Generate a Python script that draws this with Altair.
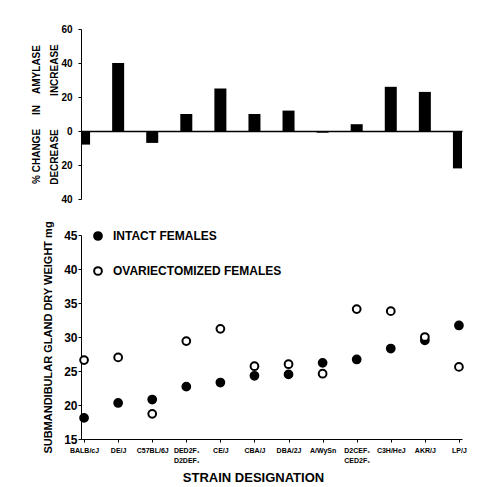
import altair as alt
import pandas as pd

strains = ["BALB/cJ", "DE/J", "C57BL/6J", "DED2F₁|D2DEF₁", "CE/J", "CBA/J",
           "DBA/2J", "A/WySn", "D2CEF₁|CED2F₁", "C3H/HeJ", "AKR/J", "LP/J"]
amylase_change = [-8, 40, -7, 10, 25, 10, 12, -1, 4, 26, 23, -22]
intact = [18.1, 20.3, 20.8, 22.7, 23.3, 24.3, 24.5, 26.2, 26.7, 28.3, 29.5, 31.7]
ovariectomized = [26.6, 27.0, 18.7, 29.4, 31.2, 25.7, 26.0, 24.6, 34.1, 33.8, 30.0, 25.6]
series_names = ["INTACT FEMALES", "OVARIECTOMIZED FEMALES"]

FONT = "Liberation Sans, DejaVu Sans"
NB = "\u00a0"

bar_df = pd.DataFrame({"strain": strains, "change": amylase_change})
pts_df = pd.DataFrame({
    "strain": strains * 2,
    "series": [series_names[0]] * len(strains) + [series_names[1]] * len(strains),
    "weight": intact + ovariectomized,
})

xscale = alt.Scale(type="point", domain=strains, padding=0.09)

top_title = [
    "%" + NB + "CHANGE" + NB * 5 + "IN" + NB * 4 + "AMYLASE",
    "DECREASE" + NB * 12 + "INCREASE",
]

top = alt.Chart(bar_df).mark_bar(size=12, color="black", clip=True).encode(
    x=alt.X("strain:N", scale=xscale, axis=None, sort=strains),
    y=alt.Y("change:Q", scale=alt.Scale(domain=[-40, 60], nice=False),
            axis=alt.Axis(values=[-40, -20, 0, 20, 40, 60], labelExpr="abs(datum.value)",
                          labelOverlap=False, labelFlush=False,
                          title=top_title, tickSize=3, labelPadding=6,
                          grid=True,
                          gridColor=alt.condition("datum.value == 0", alt.value("black"),
                                                  alt.value("transparent")),
                          gridWidth=1.5, gridOpacity=1,
                          labelFontSize=10, labelFontWeight="bold", labelFont=FONT,
                          titleFont=FONT, titleFontSize=10, titleFontWeight="bold",
                          titlePadding=1, titleLineHeight=18, domainColor="black",
                          tickColor="black", labelColor="black", titleColor="black")),
).properties(width=381, height=170)

points = alt.Chart(pts_df).mark_point(filled=False, size=60, strokeWidth=2, shape="circle",
                                      opacity=1).encode(
    x=alt.X("strain:N", scale=xscale, sort=strains,
            axis=alt.Axis(title="STRAIN DESIGNATION", labelAngle=0, tickSize=3,
                          labelExpr="split(datum.label, '|')", labelFont=FONT,
                          labelFontSize=7, labelFontWeight="bold", labelLineHeight=10,
                          labelPadding=4, labelColor="black",
                          titleFont=FONT, titleFontSize=13, titleFontWeight="bold",
                          titleColor="black", titleX=172, titlePadding=8,
                          domainColor="black", tickColor="black")),
    y=alt.Y("weight:Q", scale=alt.Scale(domain=[15, 45], nice=False),
            axis=alt.Axis(values=[15, 20, 25, 30, 35, 40, 45], grid=False, tickSize=3,
                          labelOverlap=False, labelFlush=False,
                          labelPadding=1, labelFontSize=12, labelFontWeight="bold",
                          labelFont=FONT, labelColor="black",
                          title="SUBMANDIBULAR GLAND DRY WEIGHT mg",
                          titleFont=FONT, titleFontSize=11, titleFontWeight="bold",
                          titleColor="black", titlePadding=10,
                          domainColor="black", tickColor="black")),
    fill=alt.Fill("series:N", scale=alt.Scale(domain=series_names, range=["black", "white"]),
                  legend=alt.Legend(orient="none", legendX=11, legendY=201, title=None,
                                    symbolType="circle", symbolSize=60, symbolStrokeWidth=2,
                                    symbolStrokeColor="black", symbolOpacity=1,
                                    labelFont=FONT, labelLimit=400,
                                    labelFontSize=12, labelFontWeight="bold",
                                    labelColor="black", rowPadding=19, labelOffset=9)),
    stroke=alt.value("black"),
    fillOpacity=alt.value(1),
)
bottom = points.properties(width=381, height=204)

chart = alt.vconcat(top, bottom, spacing=36, bounds="flush").properties(
    padding={"left": 23, "top": 16, "right": 5, "bottom": 5},
    background="white",
).configure_view(stroke=None)

chart.save("out.html", embed_options={"renderer": "svg", "actions": False})
